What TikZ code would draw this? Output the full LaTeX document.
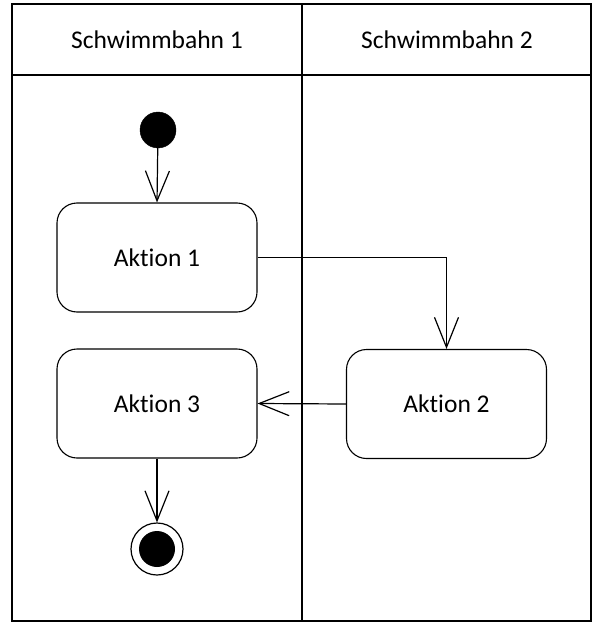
\documentclass[tikz,border=0pt]{standalone}
\usepackage{fontspec}
\setmainfont{Carlito}[Ligatures=NoCommon]
\usetikzlibrary{arrows.meta}
\begin{document}
\begin{tikzpicture}[x=1pt,y=-1pt,
  frame/.style={draw=black,line width=1.1pt},
  action/.style={draw=black,line width=1.1pt,rounded corners=20pt,minimum width=200pt,minimum height=109pt,inner sep=0pt,font=\fontsize{25.5}{28}\selectfont},
  lane/.style={font=\fontsize{25.5}{28}\selectfont,inner sep=0pt},
  flow/.style={draw=black,line width=1.2pt,-{Straight Barb[length=30pt,width=24pt,line width=1.2pt]}},
  startnode/.style={circle,fill=black,draw=black,minimum size=36pt,inner sep=0pt},
  endouter/.style={circle,draw=black,line width=1.2pt,minimum size=52pt,inner sep=0pt},
  endinner/.style={circle,fill=black,minimum size=36pt,inner sep=0pt}]
\useasboundingbox (0,0) rectangle (600,623);
\draw[frame] (12,4) rectangle (591,621);
\draw[frame] (12,75) -- (591,75);
\draw[frame] (302,4) -- (302,621);
\node[lane] (l1) at (157,40) {Schwimmbahn 1};
\node[lane] (l2) at (447,40) {Schwimmbahn 2};
\node[startnode] (s) at (158,130) {};
\node[action] (a1) at (157,257.5) {Aktion 1};
\node[action] (a2) at (446.5,404) {Aktion 2};
\node[action] (a3) at (157,403.5) {Aktion 3};
\node[endouter] (e) at (157,549) {};
\node[endinner] (ei) at (157,549) {};
\draw[flow] (s) -- (a1.north);
\draw[flow] (a1.east) -| (a2.north);
\draw[flow] (a2.west) -- (a3.east);
\draw[flow] (a3.south) -- (e.north);
\end{tikzpicture}
\end{document}
